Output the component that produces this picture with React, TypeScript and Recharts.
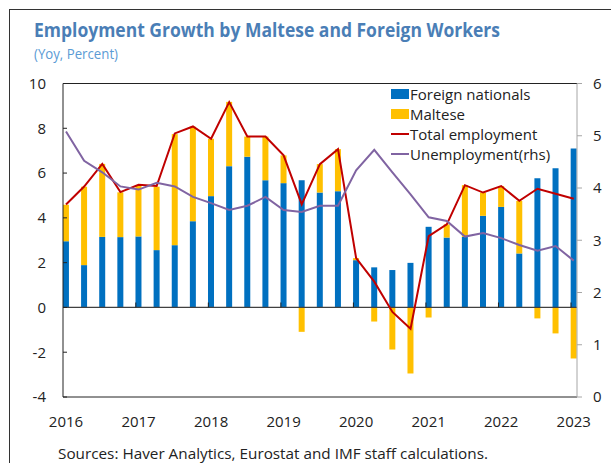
import React from 'react'
import { ComposedChart, Bar, Line, XAxis, YAxis, ReferenceLine, Legend } from 'recharts'

const FONT = '"Open Sans", "Noto Sans", sans-serif'

// quarterly, 2016Q1 .. 2023Q1
const quarters = [
  '2016Q1', '2016Q2', '2016Q3', '2016Q4',
  '2017Q1', '2017Q2', '2017Q3', '2017Q4',
  '2018Q1', '2018Q2', '2018Q3', '2018Q4',
  '2019Q1', '2019Q2', '2019Q3', '2019Q4',
  '2020Q1', '2020Q2', '2020Q3', '2020Q4',
  '2021Q1', '2021Q2', '2021Q3', '2021Q4',
  '2022Q1', '2022Q2', '2022Q3', '2022Q4',
  '2023Q1',
]
const foreignNationals = [
  2.96, 1.89, 3.15, 3.14, 3.17, 2.56, 2.78, 3.85, 4.97, 6.31, 6.73, 5.68, 5.55, 5.68,
  5.13, 5.19, 2.11, 1.79, 1.67, 1.99, 3.6, 3.12, 3.15, 4.09, 4.49, 2.41, 5.77, 6.22, 7.1,
]
const maltese = [
  1.62, 3.5, 3.26, 2.0, 2.28, 2.83, 4.96, 4.22, 2.56, 2.87, 0.9, 1.95, 1.24, -1.09,
  1.27, 1.88, 0.09, -0.63, -1.88, -2.95, -0.45, 0.59, 2.31, 1.04, 0.93, 2.35, -0.49, -1.16, -2.28,
]
const totalEmployment = [
  4.6, 5.4, 6.41, 5.15, 5.48, 5.42, 7.77, 8.08, 7.53, 9.17, 7.63, 7.63, 6.79, 4.6,
  6.4, 7.07, 2.2, 1.15, -0.2, -0.95, 3.18, 3.71, 5.46, 5.13, 5.42, 4.76, 5.3, 5.08, 4.85,
]
const unemployment = [
  5.08, 4.52, 4.3, 4.03, 3.97, 4.1, 4.03, 3.83, 3.71, 3.58, 3.66, 3.83, 3.58, 3.54,
  3.66, 3.66, 4.34, 4.73, 4.3, 3.88, 3.44, 3.37, 3.07, 3.14, 3.04, 2.91, 2.8, 2.89, 2.61,
]

const yearTicks = [0, 4, 8, 12, 16, 20, 24, 28]
const yearLabels = ['2016', '2017', '2018', '2019', '2020', '2021', '2022', '2023']
const leftTicks = [-4, -2, 0, 2, 4, 6, 8, 10]
const rightTicks = [0, 1, 2, 3, 4, 5, 6]

const data = quarters.map((q, i) => ({
  q,
  idx: i,
  foreign: foreignNationals[i],
  maltese: maltese[i],
  total: totalEmployment[i],
  unemp: unemployment[i],
}))

const LeftTick = (props: any) => {
  const { x, y, payload } = props
  return (
    <g>
      <line x1={x + 17} x2={x + 21} y1={y} y2={y} stroke="#222" />
      <text x={x} y={y} dy="0.355em" textAnchor="end" fontSize={15} fill="#222" fontFamily={FONT}>
        {payload.value}
      </text>
    </g>
  )
}

const renderLegend = (props: any) => (
  <div style={{ fontFamily: FONT, fontSize: 15, color: '#222', lineHeight: '20px' }}>
    {(props.payload || []).map((item: any) => (
      <div key={item.value} style={{ display: 'flex', alignItems: 'center', height: 20 }}>
        <span
          style={{
            display: 'inline-block',
            width: 18,
            height: item.type === 'line' ? 2 : 10,
            background: item.color,
          }}
        />
        <span style={{ marginLeft: 1 }}>{item.value}</span>
      </div>
    ))}
  </div>
)

export default function App() {
  return (
    <div style={{ position: 'absolute', left: 0, top: 0, width: 611, height: 463, overflow: 'hidden', background: '#fff' }}>
      {/* frame */}
      <div style={{ position: 'absolute', left: 9, top: 9, width: 700, height: 600, borderTop: '1px solid #333', borderLeft: '1px solid #333' }} />

      <ComposedChart
        width={611}
        height={463}
        data={data}
        stackOffset="sign"
        margin={{ top: 83.5, right: 0, bottom: 36, left: 0 }}
        style={{ position: 'absolute', left: 0, top: 0 }}
      >
        <XAxis
          dataKey="idx"
          type="number"
          domain={[-0.166, 28.18]}
          allowDataOverflow
          ticks={yearTicks}
          interval={0}
          tickFormatter={(v: number) => yearLabels[yearTicks.indexOf(v)]}
          tickLine={false}
          tickSize={0}
          tickMargin={19}
          height={30}
          axisLine={{ stroke: '#222' }}
          tick={{ fontSize: 15, fill: '#222', fontFamily: FONT }}
        />
        <YAxis
          yAxisId="left"
          domain={[-4, 10]}
          ticks={leftTicks}
          interval={0}
          width={63}
          tickSize={0}
          tickMargin={17}
          tickLine={false}
          axisLine={{ stroke: '#222' }}
          tick={<LeftTick />}
        />
        <YAxis
          yAxisId="right"
          orientation="right"
          domain={[0, 6]}
          ticks={rightTicks}
          interval={0}
          width={34}
          tickSize={5}
          tickMargin={11}
          axisLine={{ stroke: '#a6a6a6' }}
          tickLine={{ stroke: '#a6a6a6' }}
          tick={{ fontSize: 15, fill: '#222', fontFamily: FONT }}
        />
        <Legend
          layout="vertical"
          align="center"
          verticalAlign="middle"
          wrapperStyle={{ left: 391, top: 84, width: 200, right: 'auto', bottom: 'auto' }}
          content={renderLegend}
        />
        <Bar dataKey="foreign" name="Foreign nationals" stackId="s" yAxisId="left" fill="#0070C0" barSize={6} isAnimationActive={false} />
        <Bar dataKey="maltese" name="Maltese" stackId="s" yAxisId="left" fill="#FFC000" barSize={6} isAnimationActive={false} />
        <ReferenceLine y={10} yAxisId="left" stroke="#222" />
        <ReferenceLine y={0} yAxisId="left" stroke="#404040" strokeWidth={1.3} />
        {yearTicks.slice(1).map((t) => (
          <ReferenceLine
            key={t}
            yAxisId="left"
            stroke="#222"
            segment={[{ x: t - 0.15, y: 0 }, { x: t - 0.15, y: 0.22 }]}
          />
        ))}
        <Line dataKey="total" name="Total employment" yAxisId="left" stroke="#C00000" strokeWidth={2} dot={false} type="linear" isAnimationActive={false} />
        <Line dataKey="unemp" name="Unemployment(rhs)" yAxisId="right" stroke="#8064A2" strokeWidth={2} dot={false} type="linear" isAnimationActive={false} />
      </ComposedChart>

      <svg width={611} height={463} style={{ position: 'absolute', left: 0, top: 0, pointerEvents: 'none' }}>
        <text x={34} y={37} fontFamily={FONT} fontWeight={700} fontSize={19} fill="#4a7eb6" textLength={466} lengthAdjust="spacingAndGlyphs">
          Employment Growth by Maltese and Foreign Workers
        </text>
        <text x={34} y={59} fontFamily={FONT} fontSize={14} fill="#5b9bd5" textLength={84} lengthAdjust="spacingAndGlyphs">
          (Yoy, Percent)
        </text>
        <text x={58} y={459} fontFamily={FONT} fontSize={15} fill="#222" textLength={430} lengthAdjust="spacingAndGlyphs">
          Sources: Haver Analytics, Eurostat and IMF staff calculations.
        </text>
      </svg>
    </div>
  )
}
